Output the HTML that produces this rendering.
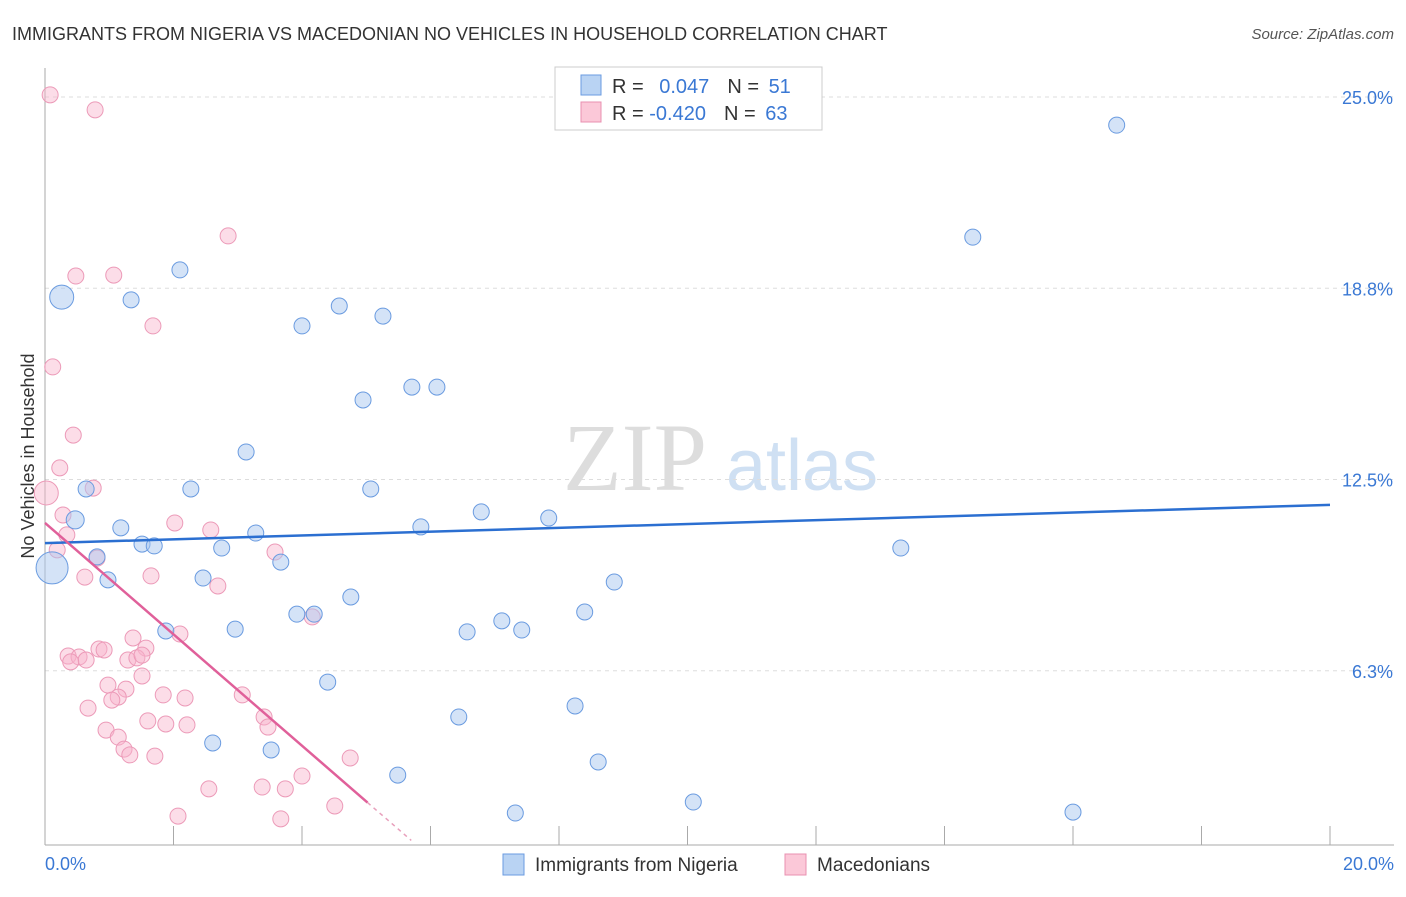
<!DOCTYPE html>
<html><head><meta charset="utf-8"><style>
body{margin:0;background:#fff;font-family:"Liberation Sans",sans-serif;}
#c{position:relative;width:1406px;height:892px;}
</style></head><body>
<div id="c">
<svg id="s" width="1406" height="892">
<text x="12" y="40" font-size="18" fill="#333">IMMIGRANTS FROM NIGERIA VS MACEDONIAN NO VEHICLES IN HOUSEHOLD CORRELATION CHART</text>
<text x="1394" y="39" font-size="15" fill="#555" font-style="italic" text-anchor="end">Source: ZipAtlas.com</text>
<g>
<text x="635" y="490" font-size="96" fill="#ddd" font-family="Liberation Serif,serif" text-anchor="middle">ZIP</text>
<text x="802" y="490" font-size="72" fill="#cfe0f3" text-anchor="middle">atlas</text>
</g>
<text transform="translate(34,456) rotate(-90)" font-size="18" fill="#333" text-anchor="middle">No Vehicles in Household</text>
<g id="grid"></g><g id="marks"></g><g id="trend"></g>
<g>
<rect x="555" y="67" width="267" height="63" fill="#fff" stroke="#ccc"/>
<rect x="581" y="75" width="20" height="20" fill="#b9d3f3" stroke="#6a9be0"/>
<rect x="581" y="102" width="20" height="20" fill="#fbc8d8" stroke="#e890b0"/>
<text x="612" y="93" font-size="20" fill="#333">R = <tspan fill="#3a78d4" dx="10">0.047</tspan><tspan dx="18" fill="#333">N = </tspan><tspan fill="#3a78d4" dx="4">51</tspan></text>
<text x="612" y="120" font-size="20" fill="#333">R = <tspan fill="#3a78d4" dx="0">-0.420</tspan><tspan dx="18" fill="#333">N = </tspan><tspan fill="#3a78d4" dx="4">63</tspan></text>
</g>
<g>
<rect x="503" y="854" width="21" height="21" fill="#b9d3f3" stroke="#6a9be0"/>
<text x="535" y="871" font-size="19" fill="#333">Immigrants from Nigeria</text>
<rect x="785" y="854" width="21" height="21" fill="#fbc8d8" stroke="#e890b0"/>
<text x="817" y="871" font-size="19" fill="#333">Macedonians</text>
</g>
</svg></div>
<script>
const yTicks=[6.25,12.5,18.75,25];
const yTickLabels=["6.3%","12.5%","18.8%","25.0%"];
const xTickLabels=["0.0%","20.0%"];
const blueX=[0.26,1.34,2.10,4.00,4.58,5.26,4.95,5.71,6.10,3.13,5.07,2.27,0.64,0.47,1.18,3.28,5.85,6.79,7.84,1.51,1.70,2.75,3.67,0.81,0.11,0.98,2.46,8.86,4.76,4.19,3.92,8.40,7.11,6.57,7.42,1.88,2.96,4.40,6.44,8.25,2.61,3.52,5.49,8.61,10.09,7.32,16.00,13.32,14.44,16.68,11.78];
const blueY=[18.46,18.37,19.35,17.52,18.17,17.84,15.10,15.52,15.52,13.40,12.19,12.19,12.19,11.18,10.92,10.75,10.95,11.44,11.24,10.39,10.33,10.26,9.80,9.97,9.61,9.22,9.28,9.15,8.66,8.10,8.10,8.17,7.88,7.52,7.58,7.55,7.61,5.88,4.74,5.10,3.89,3.66,2.84,3.27,1.96,1.60,1.63,10.26,20.42,24.08,25.56];
const blueSize=[12,8,8,8,8,8,8,8,8,8,8,8,8,9,8,8,8,8,8,8,8,8,8,8,16,8,8,8,8,8,8,8,8,8,8,8,8,8,8,8,8,8,8,8,8,8,8,8,8,8,8];
const pinkX=[0.08,0.78,2.85,0.48,1.07,1.68,0.12,0.44,0.23,0.02,0.75,0.28,2.02,2.58,0.34,0.19,0.81,3.58,0.62,1.65,2.69,4.16,1.37,2.10,1.57,0.84,0.92,0.36,0.53,0.64,0.40,1.29,1.43,1.51,0.98,1.26,1.84,2.18,3.07,1.14,1.04,0.67,1.51,3.41,3.47,1.60,1.88,2.21,0.95,1.14,1.23,1.32,1.71,4.75,4.00,2.55,3.38,3.74,4.51,2.07,3.67];
const pinkY=[25.07,24.58,20.46,19.15,19.18,17.52,16.18,13.95,12.88,12.06,12.22,11.34,11.08,10.85,10.69,10.20,9.93,10.13,9.31,9.35,9.02,8.01,7.32,7.45,6.99,6.96,6.93,6.73,6.70,6.60,6.54,6.60,6.67,6.76,5.78,5.65,5.46,5.36,5.46,5.39,5.29,5.03,6.08,4.74,4.41,4.61,4.51,4.48,4.31,4.08,3.69,3.50,3.46,3.40,2.81,2.39,2.45,2.39,1.83,1.50,1.41];
const blueTrend=[10.42,11.67];
const pinkTrend=[11.08,-1.82];
const NS="http://www.w3.org/2000/svg";
const X=v=>45+v*64.25, Y=v=>862-v*30.6;
function mk(t,a,p){const e=document.createElementNS(NS,t);for(const k in a)e.setAttribute(k,a[k]);p.appendChild(e);return e;}
const g=document.getElementById('grid');
yTicks.forEach((t,i)=>{
 const l=mk('line',{x1:45,x2:1394,y1:Y(t),y2:Y(t),stroke:'#ddd','stroke-dasharray':'4,4'},g);
 
 
 const tx=mk('text',{x:1393,y:Y(t)+7,'font-size':18,fill:'#3a78d4','text-anchor':'end'},g);
 tx.textContent=yTickLabels[i];
 
 
});
const ax=mk('line',{x1:45,x2:45,y1:68,y2:845,stroke:'#aaa'},g);


const bx=mk('line',{x1:45,x2:1394,y1:845,y2:845,stroke:'#aaa'},g);


for(let i=0;i<=10;i++){
 const t=mk('line',{x1:X(i*2),x2:X(i*2),y1:826,y2:845,stroke:'#aaa'},g);
 
 
}
[[0,'start',45],[20,'end',1394]].forEach((d,i)=>{
 const tx=mk('text',{x:d[2],y:870,'font-size':18,fill:'#3a78d4','text-anchor':d[1]},g);
 tx.textContent=xTickLabels[i];
 
 
});
const m=document.getElementById('marks');
pinkX.forEach((v,i)=>{
 const r=(i==9?12:8);
 const c=mk('circle',{cx:X(v),cy:Y(pinkY[i]),r:r,fill:'rgba(248,180,204,0.45)',stroke:'#ec9ab8','stroke-width':1},m);
 
 
});
blueX.forEach((v,i)=>{
 const c=mk('circle',{cx:X(v),cy:Y(blueY[i]),r:blueSize[i],fill:'rgba(170,200,240,0.5)',stroke:'#6a9be0','stroke-width':1},m);
 
 
});
const tr=document.getElementById('trend');
const bl=mk('line',{x1:X(0),y1:Y(blueTrend[0]),x2:X(20),y2:Y(blueTrend[1]),stroke:'#2b6fd1','stroke-width':2.5},tr);


const pl=mk('line',{x1:X(0),y1:Y(pinkTrend[0]),x2:X(5.02),y2:Y(pinkTrend[0]+pinkTrend[1]*5.02),stroke:'#e0609a','stroke-width':2.5},tr);


const pd=mk('line',{x1:X(5.02),y1:Y(pinkTrend[0]+pinkTrend[1]*5.02),x2:X(5.7),y2:Y(pinkTrend[0]+pinkTrend[1]*5.7),stroke:'#e8a0bc','stroke-width':1.5,'stroke-dasharray':'4,4'},tr);


</script>
</body></html>
